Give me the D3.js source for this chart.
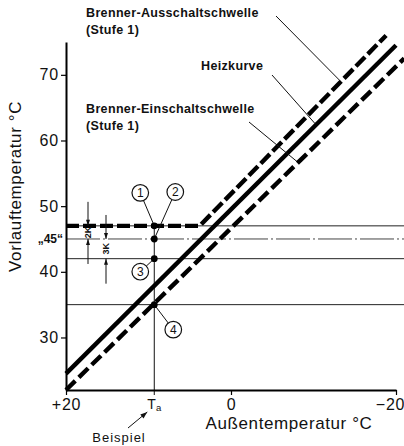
<!DOCTYPE html>
<html><head><meta charset="utf-8">
<script src="https://cdn.jsdelivr.net/npm/d3@7"></script>
<style>
html,body{margin:0;padding:0;background:#fff;}
svg{display:block;font-family:"Liberation Sans",Arial,Helvetica,sans-serif;}
</style></head><body>
<svg id="chart" width="404" height="446"></svg>
<script>
// Axes: outside temperature (reversed) and flow temperature, °C
const xTicks = [20, 0, -20];
const xTickLabels = ["+20", "0", "\u221220"];
const yTicks = [30, 40, 50, 60, 70];

// Heating curve and burner switching thresholds (stage 1): [outside temp] -> [flow temp]
const heizT = [20, -20];
const heizV = [24.5, 74.5];
const ausT = [20, 3.8, -18.8];
const ausV = [47, 47, 76];
const einT = [20, -21];
const einV = [22, 72.5];

// Example outside temperature and the marked flow temperatures
const Ta = 9.3;
const markNums = [1, 2, 3, 4];
const markV = [47, 45, 42, 35];
const setpoint = 45;
const hystLabels = ["2K", "3K"];

const svg = d3.select("#chart");
const x = d3.scaleLinear().domain([20, -20]).range([66, 396]);
const y = d3.scaleLinear().domain([22, 75]).range([390, 42]);
const W = 404;

const line = d3.line().x(d => x(d[0])).y(d => y(d[1]));
const interp = (T, V) => t => {
  for (let i = 0; i < T.length - 1; i++) {
    if (t <= T[i] && t >= T[i + 1]) {
      const f = (t - T[i]) / (T[i + 1] - T[i]);
      return V[i] + f * (V[i + 1] - V[i]);
    }
  }
  const n = T.length - 1;
  return V[n - 1] + (t - T[n - 1]) / (T[n] - T[n - 1]) * (V[n] - V[n - 1]);
};
const heiz = interp(heizT, heizV), aus = interp(ausT, ausV), ein = interp(einT, einV);

// Thin reference lines at the marked flow temperatures
const g = svg.append("g");
markV.forEach(v => {
  g.append("line")
    .attr("x1", x(20)).attr("x2", W)
    .attr("y1", y(v)).attr("y2", y(v))
    .attr("stroke", v === setpoint ? "#444" : "#222")
    .attr("stroke-width", 1)
    .attr("stroke-dasharray", v === setpoint ? "34,3,2,3" : null);
});

// Vertical at the example outside temperature
g.append("line")
  .attr("x1", x(Ta)).attr("x2", x(Ta))
  .attr("y1", y(22) + 5).attr("y2", y(markV[0]))
  .attr("stroke", "#111").attr("stroke-width", 1);

// Curves
svg.append("path").datum(d3.zip(einT, einV)).attr("d", line)
  .attr("fill", "none").attr("stroke", "#000").attr("stroke-width", 4.4)
  .attr("stroke-dasharray", "13,5");
svg.append("path").datum(d3.zip(heizT, heizV)).attr("d", line)
  .attr("fill", "none").attr("stroke", "#000").attr("stroke-width", 4.4);
svg.append("path").datum(d3.zip(ausT, ausV)).attr("d", line)
  .attr("fill", "none").attr("stroke", "#000").attr("stroke-width", 4.4)
  .attr("stroke-dasharray", "13,4");

// Axes
const yAxis = svg.append("g").attr("transform", `translate(${x(20)},0)`)
  .call(d3.axisLeft(y).tickValues(yTicks).tickSize(5).tickSizeOuter(0).tickPadding(2));
const xAxis = svg.append("g").attr("transform", `translate(0,${y(22)})`)
  .call(d3.axisBottom(x).tickValues(xTicks).tickSize(5).tickSizeOuter(0).tickPadding(4)
    .tickFormat((d, i) => xTickLabels[i]));
[yAxis, xAxis].forEach(a => {
  a.select(".domain").attr("stroke", "#000").attr("stroke-width", 2);
  a.selectAll(".tick line").attr("stroke", "#000").attr("stroke-width", 1.2);
  a.selectAll(".tick text").attr("font-size", 16).attr("fill", "#111")
    .attr("letter-spacing", "0.8px").attr("font-family", "Liberation Sans, Arial, sans-serif");
});
xAxis.selectAll(".tick text").filter((d, i) => i === 2).attr("dx", -6);

// "45" setpoint label
svg.append("text").attr("x", x(20) - 3).attr("y", y(setpoint) + 4)
  .attr("text-anchor", "end").attr("font-size", 12).attr("font-weight", "bold")
  .attr("fill", "#111").text("\u201E45\u201C");

// Axis titles
svg.append("text").attr("transform", `translate(21,${y(53)}) rotate(-90)`)
  .attr("text-anchor", "middle").attr("font-size", 17).attr("letter-spacing", "0.6px")
  .attr("fill", "#111").text("Vorlauftemperatur °C");
svg.append("text").attr("x", 289).attr("y", 429)
  .attr("text-anchor", "middle").attr("font-size", 17).attr("letter-spacing", "0.6px")
  .attr("fill", "#111").text("Außentemperatur °C");

// Ta label and example pointer
const ta = svg.append("text").attr("x", x(Ta)).attr("y", 409)
  .attr("text-anchor", "middle").attr("fill", "#111");
ta.append("tspan").attr("font-size", 14).text("T");
ta.append("tspan").attr("font-size", 9.5).attr("dy", 2).text("a");
svg.append("text").attr("x", 119).attr("y", 442).attr("text-anchor", "middle")
  .attr("font-size", 13).attr("letter-spacing", "1px").attr("fill", "#111").text("Beispiel");

function arrow(x1, y1, x2, y2, head) {
  svg.append("line").attr("x1", x1).attr("y1", y1).attr("x2", x2).attr("y2", y2)
    .attr("stroke", "#111").attr("stroke-width", 1);
  const a = Math.atan2(y2 - y1, x2 - x1), L = head[0], w = head[1];
  const bx = x2 - L * Math.cos(a), by = y2 - L * Math.sin(a);
  const px = -Math.sin(a) * w, py = Math.cos(a) * w;
  svg.append("path")
    .attr("d", `M${x2},${y2}L${bx + px},${by + py}L${bx - px},${by - py}Z`)
    .attr("fill", "#111");
}
arrow(128, 428, x(Ta) - 7, 412, [7, 2.5]);

// Hysteresis dimension arrows
const dims = [[88, markV[0], markV[1]], [106, markV[1], markV[2]]];
dims.forEach(([dx, vt, vb], i) => {
  arrow(dx, y(vt) - 24, dx, y(vt), [6, 2]);
  arrow(dx, y(vb) + 25, dx, y(vb), [6, 2]);
  const cy = (y(vt) + y(vb)) / 2;
  svg.append("text").attr("transform", `translate(${dx + 3},${cy}) rotate(-90)`)
    .attr("text-anchor", "middle").attr("font-size", 9).attr("font-weight", "bold")
    .attr("fill", "#111").text(hystLabels[i]);
});

// Marked points with numbered callouts
const calloutOffset = [[-14, -33], [21, -47], [-14, 13], [19, 25]];
markV.forEach((v, i) => {
  const px = x(Ta), py = y(v);
  const cx = px + calloutOffset[i][0], cy = py + calloutOffset[i][1];
  const r = 8.3;
  const d = Math.hypot(cx - px, cy - py);
  svg.append("line").attr("x1", px).attr("y1", py)
    .attr("x2", cx - (cx - px) / d * r).attr("y2", cy - (cy - py) / d * r)
    .attr("stroke", "#111").attr("stroke-width", 1);
  svg.append("circle").attr("cx", cx).attr("cy", cy).attr("r", r)
    .attr("fill", "#fff").attr("stroke", "#111").attr("stroke-width", 1.2);
  svg.append("text").attr("x", cx).attr("y", cy + 4.3).attr("text-anchor", "middle")
    .attr("font-size", 12).attr("fill", "#111").text(markNums[i]);
  svg.append("circle").attr("cx", px).attr("cy", py).attr("r", 3.4).attr("fill", "#000");
});

// Curve labels with leaders
const labels = [
  { lines: ["Brenner-Ausschaltschwelle", "(Stufe 1)"], x: 86, y: 17, from: [276, 16], T: -13.2, f: aus },
  { lines: ["Heizkurve"], x: 201, y: 70, from: [272, 75], T: -10.2, f: heiz },
  { lines: ["Brenner-Einschaltschwelle", "(Stufe 1)"], x: 86, y: 113, from: [249, 122], T: -8.0, f: ein }
];
labels.forEach(l => {
  l.lines.forEach((s, j) => {
    svg.append("text").attr("x", l.x).attr("y", l.y + j * 16.5)
      .attr("font-size", 12.5).attr("font-weight", "bold").attr("letter-spacing", "0.35px")
      .attr("fill", "#111").text(s);
  });
  svg.append("line").attr("x1", l.from[0]).attr("y1", l.from[1])
    .attr("x2", x(l.T)).attr("y2", y(l.f(l.T)) - 2)
    .attr("stroke", "#111").attr("stroke-width", 1);
});
</script>
</body></html>
